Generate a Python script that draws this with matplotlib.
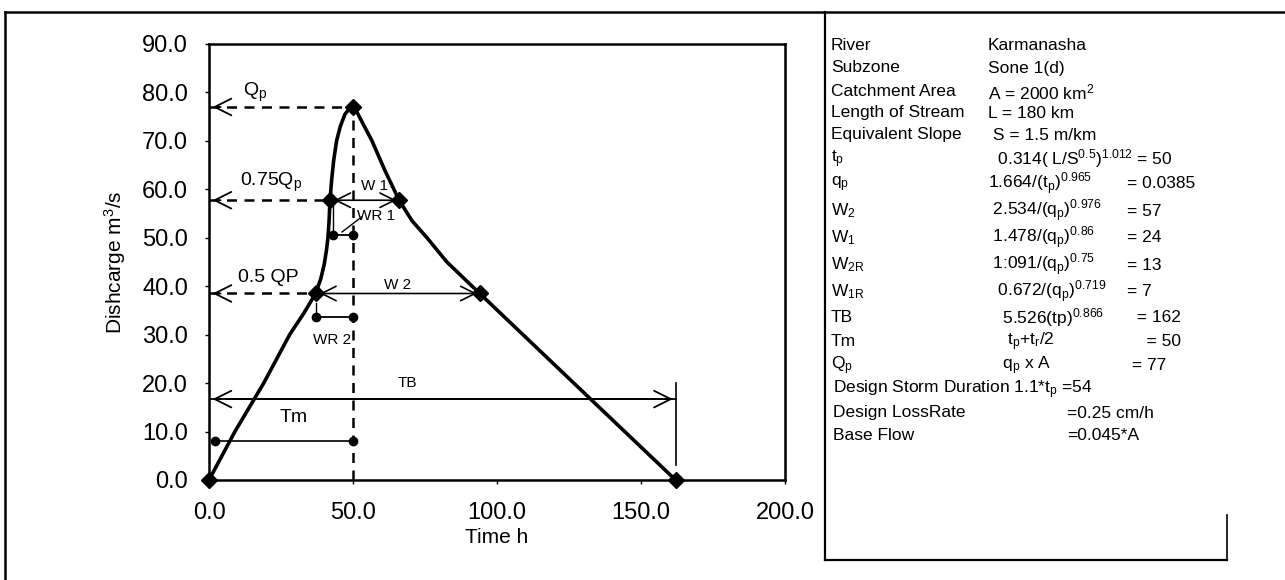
import matplotlib
matplotlib.use("Agg")
import matplotlib.pyplot as plt
from matplotlib.lines import Line2D

plt.rcParams['font.family'] = ['Liberation Sans', 'DejaVu Sans']
plt.rcParams['mathtext.fontset'] = 'custom'
plt.rcParams['mathtext.rm'] = 'Liberation Sans'
plt.rcParams['mathtext.it'] = 'Liberation Sans'
plt.rcParams['mathtext.bf'] = 'Liberation Sans:bold'

# synthetic unit hydrograph, Karmanasha (Sone 1(d))
time_h = [0, 9, 19, 28, 33, 37, 38.8, 40, 40.8, 41.3, 41.7, 42, 42.6, 43.3, 44.3, 45.6, 47.2, 48.8, 50,
          51.5, 53.5, 56.6, 61, 66, 70.5, 75.7, 82.6, 94, 162]
discharge = [0, 10, 20, 30, 34.5, 38.5, 41.5, 44.5, 47.5, 50, 53.5, 57.75, 62, 66, 70, 73, 75.5, 76.7, 77,
             75.8, 73.5, 70, 64, 57.75, 53.5, 50, 45, 38.5, 0]

# key points of the hydrograph
tp = 50
Qp = 77
q75 = 0.75 * Qp
q50 = 0.5 * Qp
key_t = [0, 37, 42, 50, 66, 94, 162]
key_q = [0, q50, q75, Qp, q75, q50, 0]

# widths (h)
w1 = (42, 66)
w2 = (37, 94)
wr1 = (43, 50)
wr2 = (37, 50)
wr1_y = 50.5
wr2_y = 33.7
tm_span = (2, 50)
tm_y = 8
tb = 162
tb_y = 16.7

# parameter table on the right
param_names = ["River", "Subzone", "Catchment Area", "Length of Stream", "Equivalent Slope",
               r"t$_\mathregular{p}$", r"q$_\mathregular{p}$", r"W$_\mathregular{2}$",
               r"W$_\mathregular{1}$", r"W$_\mathregular{2R}$", r"W$_\mathregular{1R}$",
               "TB", "Tm", r"Q$_\mathregular{p}$"]
param_formulas = ["Karmanasha", "Sone 1(d)", r"A = 2000 km$^\mathregular{2}$", "L = 180 km",
                  " S = 1.5 m/km",
                  r"  0.314( L/S$^\mathregular{0.5}$)$^\mathregular{1.012}$ = 50",
                  r"1.664/(t$_\mathregular{p}$)$^\mathregular{0.965}$",
                  r" 2.534/(q$_\mathregular{p}$)$^\mathregular{0.976}$",
                  r" 1.478/(q$_\mathregular{p}$)$^\mathregular{0.86}$",
                  r" 1:091/(q$_\mathregular{p}$)$^\mathregular{0.75}$",
                  r"  0.672/(q$_\mathregular{p}$)$^\mathregular{0.719}$",
                  r"   5.526(tp)$^\mathregular{0.866}$",
                  r"    t$_\mathregular{p}$+t$_\mathregular{r}$/2",
                  r"   q$_\mathregular{p}$ x A"]
param_results = ["", "", "", "", "", "", "= 0.0385", "= 57", "= 24", "= 13", "= 7",
                 "  = 162", "    = 50", " = 77"]
extra_rows = [(r"Design Storm Duration 1.1*t$_\mathregular{p}$ =54", ""),
              ("Design LossRate", "=0.25 cm/h"),
              ("Base Flow", "=0.045*A")]

W, H = 1285, 580
fig = plt.figure(figsize=(W / 100, H / 100), dpi=100)
ax = fig.add_axes([209 / W, 1 - 480 / H, 576 / W, 436 / H])

ax.set_xlim(0, 200)
ax.set_ylim(0, 90)
ax.set_xticks([0, 50, 100, 150, 200])
ax.set_yticks(range(0, 100, 10))
ax.xaxis.set_major_formatter(matplotlib.ticker.FormatStrFormatter('%.1f'))
ax.yaxis.set_major_formatter(matplotlib.ticker.FormatStrFormatter('%.1f'))
ax.tick_params(axis='both', labelsize=17, length=3, width=1, direction='out')
ax.tick_params(axis='x', pad=13)
ax.tick_params(axis='y', pad=12)
for s in ax.spines.values():
    s.set_linewidth(1.8)
ax.set_xlabel("Time h", fontsize=15, labelpad=3)
ax.set_ylabel(r"Dishcarge m$^\mathregular{3}$/s", fontsize=15, labelpad=10)

# hydrograph
ax.plot(time_h, discharge, color='black', lw=2.6, zorder=3, clip_on=False, solid_joinstyle='round')
ax.plot(key_t, key_q, linestyle='none', marker='D', ms=8, color='black', zorder=4, clip_on=False)

# dashed guides to the y axis
dash = dict(color='black', lw=1.8, linestyle=(0, (4, 3)))
ax.plot([0, tp], [Qp, Qp], **dash)
ax.plot([0, w1[0]], [q75, q75], **dash)
ax.plot([0, w2[0]], [q50, q50], **dash)
ax.plot([tp, tp], [0, Qp], **dash)
head = dict(arrowstyle='->', color='black', lw=1.3, mutation_scale=30)
for yv in (Qp, q75, q50, tb_y):
    ax.annotate('', xy=(0.3, yv), xytext=(5, yv), arrowprops=head)

# width arrows
ax.annotate('', xy=(w1[0] + 0.5, q75), xytext=(w1[1], q75),
            arrowprops=dict(arrowstyle='<->', color='black', lw=1.2, mutation_scale=26))
ax.annotate('', xy=(w2[0] + 0.5, q50), xytext=(w2[1], q50),
            arrowprops=dict(arrowstyle='<->', color='black', lw=1.2, mutation_scale=26))

# WR bars
ax.plot(wr1, [wr1_y, wr1_y], color='black', lw=1.3, marker='o', ms=6)
ax.plot(wr2, [wr2_y, wr2_y], color='black', lw=1.3, marker='o', ms=6)
ax.plot([wr1[0], wr1[0]], [q75, wr1_y], color='black', lw=1.0)
ax.plot([wr2[0], wr2[0]], [36.5, wr2_y], color='black', lw=1.0)
ax.plot([46.2, 53], [51.2, 54.3], color='black', lw=1.0)

# Tm and TB
ax.plot(tm_span, [tm_y, tm_y], color='black', lw=1.2, marker='o', ms=6)
ax.annotate('', xy=(tb, tb_y), xytext=(5, tb_y),
            arrowprops=dict(arrowstyle='->', color='black', lw=1.3, mutation_scale=30))
ax.plot([tb, tb], [3, 20], color='black', lw=1.2)
ax.plot([0, tb], [tb_y, tb_y], color='black', lw=1.3)

# annotation labels
ax.text(16, 80, r"Q$_\mathregular{p}$", fontsize=14, ha='center', va='center')
ax.text(21.6, 61.5, r"0.75Q$_\mathregular{p}$", fontsize=14, ha='center', va='center')
ax.text(20.5, 41.7, "0.5 QP", fontsize=14, ha='center', va='center')
ax.text(57.6, 60.7, "W 1", fontsize=11, ha='center', va='center')
ax.text(65.6, 40.3, "W 2", fontsize=11, ha='center', va='center')
ax.text(58, 54.5, "WR 1", fontsize=11, ha='center', va='center')
ax.text(42.7, 29, "WR 2", fontsize=11, ha='center', va='center')
ax.text(69, 20, "TB", fontsize=11, ha='center', va='center')
ax.text(29.5, 13, "Tm", fontsize=14, ha='center', va='center')

# frame lines
def fline(xs, ys, lw=1.6):
    fig.add_artist(Line2D([x / W for x in xs], [1 - y / H for y in ys],
                          color='black', lw=lw, transform=fig.transFigure))

fline([5, 1285], [12, 12], lw=1.8)
fline([5, 5], [12, 580], lw=1.8)
fline([825, 825], [12, 560])
fline([825, 1227], [560, 560])
fline([1227, 1227], [515, 560], lw=1.2)

# parameter table
fs = 12.5
row_y = [46, 68, 92, 113, 135, 159, 184, 211, 238, 265, 292, 318, 342, 366]
for yv, name, form, res in zip(row_y, param_names, param_formulas, param_results):
    fig.text(831 / W, 1 - yv / H, name, fontsize=fs, va='center', ha='left')
    fig.text(988 / W, 1 - yv / H, form, fontsize=fs, va='center', ha='left')
    if res:
        fig.text(1127 / W, 1 - yv / H, res, fontsize=fs, va='center', ha='left')
for yv, (name, res) in zip([390, 413, 436], extra_rows):
    fig.text(833 / W, 1 - yv / H, name, fontsize=fs, va='center', ha='left')
    if res:
        fig.text(1067 / W, 1 - yv / H, res, fontsize=fs, va='center', ha='left')

fig.savefig("out.png", dpi=100)
